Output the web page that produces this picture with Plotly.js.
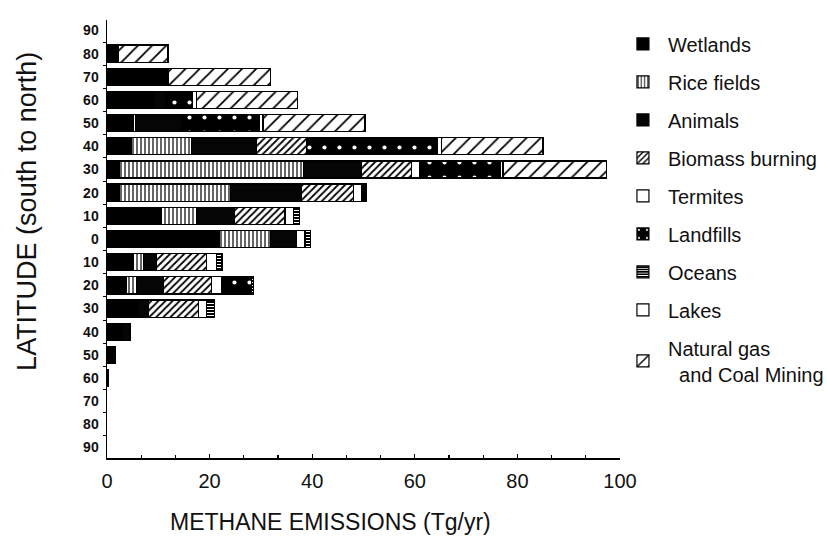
<!DOCTYPE html>
<html>
<head>
<meta charset="utf-8">
<script src="https://cdn.plot.ly/plotly-3.0.1.min.js"></script>
<style>html,body{margin:0;padding:0;background:#fff;}#chart{width:827px;height:538px;}</style>
</head>
<body>
<div id="chart"></div>
<script>
// Latitude bands (positive = north, negative = south)
const latitudes = [80, 70, 60, 50, 40, 30, 20, 10, 0, -10, -20, -30, -40, -50, -60];
const latTickVals = [90, 80, 70, 60, 50, 40, 30, 20, 10, 0, -10, -20, -30, -40, -50, -60, -70, -80, -90];
const latTickText = ["90","80","70","60","50","40","30","20","10","0","10","20","30","40","50","60","70","80","90"];
const bandTicks = [85, 75, 65, 55, 45, 35, 25, 15, 5, -5, -15, -25, -35, -45, -55, -65, -75, -85];
const xTickVals = [0, 20, 40, 60, 80, 100];

// Emissions (Tg/yr) per source, per latitude band
const wetlands   = [2.2, 11.9, 9.0, 5.2, 4.8, 2.5, 2.5, 10.7, 22.0, 5.1, 3.8, 6.0, 3.0, 1.0, 0.3];
const riceFields = [null, null, null, 0.4, 11.7, 35.8, 21.5, 6.8, 9.8, 2.0, 2.0, null, null, null, null];
const animals    = [null, null, 2.5, 9.0, 12.7, 11.3, 13.9, 7.4, 5.2, 2.6, 5.2, 2.1, 1.5, 0.6, null];
const biomass    = [null, null, null, null, 9.7, 9.8, 10.1, 9.8, null, 9.7, 9.4, 9.7, null, null, null];
const termites   = [null, null, null, null, null, 1.6, 1.6, 1.6, 1.6, 2.0, 2.0, 1.6, null, null, null];
const landfills  = [null, null, 5.1, 15.2, 25.6, 15.6, 1.0, null, null, null, 5.8, null, null, null, null];
const oceans     = [null, null, null, null, null, null, null, 1.3, 1.0, 1.0, 0.3, 1.6, null, null, null];
const lakes      = [null, null, 0.9, 0.6, 0.7, 0.6, null, null, null, null, null, null, null, null, null];
const naturalGas = [9.7, 20.0, 19.6, 19.9, 19.8, 20.2, null, null, null, null, null, null, null, null, null];

const seriesNames = ["Wetlands", "Rice fields", "Animals", "Biomass burning", "Termites",
  "Landfills", "Oceans", "Lakes", "Natural gas<br>&nbsp;&nbsp;and Coal Mining"];
const seriesData = [wetlands, riceFields, animals, biomass, termites, landfills, oceans, lakes, naturalGas];

const styles = [
  {color: "#000000"},
  {color: "#ffffff", pattern: {shape: "|", fgcolor: "#000", bgcolor: "#fff", size: 4, solidity: 0.3}},
  {color: "#050505"},
  {color: "#ffffff", pattern: {shape: "/", fgcolor: "#000", bgcolor: "#fff", size: 5, solidity: 0.35}},
  {color: "#ffffff"},
  {color: "#000000", pattern: {shape: ".", fgcolor: "#fff", bgcolor: "#000", size: 15, solidity: 0.06}},
  {color: "#000000", pattern: {shape: "-", fgcolor: "#fff", bgcolor: "#000", size: 3, solidity: 0.35}},
  {color: "#ffffff"},
  {color: "#ffffff", pattern: {shape: "/", fgcolor: "#000", bgcolor: "#fff", size: 10, solidity: 0.18}}
];

const traces = seriesData.map((vals, i) => ({
  type: "bar",
  orientation: "h",
  name: seriesNames[i],
  x: vals,
  y: latitudes,
  width: 7.4,
  legendgroup: "g" + i,
  marker: Object.assign({line: {color: "#000", width: 1.2}}, styles[i]),
  hoverinfo: "x+name"
}));

const font = "Liberation Sans, Arial, Helvetica, sans-serif";

const layout = {
  width: 827, height: 538,
  margin: {l: 107, r: 207, t: 20, b: 80, autoexpand: false},
  paper_bgcolor: "#fff", plot_bgcolor: "#fff",
  barmode: "stack",
  bargap: 0,
  font: {family: font, color: "#111"},
  showlegend: true,
  legend: {
    x: 0.996, xanchor: "left", y: 0.99, yanchor: "top",
    font: {family: font, size: 20, color: "#111"},
    tracegroupgap: 9,
    traceorder: "grouped",
    itemwidth: 40,
    bgcolor: "rgba(0,0,0,0)"
  },
  xaxis: {
    range: [0, 100],
    tickmode: "array", tickvals: xTickVals,
    ticks: "inside", ticklen: 4, tickcolor: "#000", tickwidth: 1.2,
    minor: {dtick: 20/3, tick0: 0, ticks: "inside", ticklen: 3, tickcolor: "#000"},
    showline: true, linecolor: "#000", linewidth: 1.5,
    showgrid: false, zeroline: false,
    tickfont: {family: font, size: 20, color: "#111"},
    ticklabelstandoff: 4,
    fixedrange: true
  },
  yaxis: {
    range: [-94.5, 94.5],
    tickmode: "array", tickvals: latTickVals, ticktext: latTickText,
    ticks: "",
    minor: {tickmode: "array", tickvals: bandTicks, ticks: "outside", ticklen: 3, tickcolor: "#000"},
    showline: true, linecolor: "#000", linewidth: 1.5,
    showgrid: false, zeroline: false,
    tickfont: {family: font, size: 14, color: "#111", weight: "bold"},
    ticklabelstandoff: 4,
    fixedrange: true
  },
  annotations: [
    {text: "METHANE EMISSIONS (Tg/yr)", xref: "paper", yref: "paper",
     x: 0.435, y: -0.147, xanchor: "center", yanchor: "middle", showarrow: false,
     font: {family: font, size: 23, color: "#111"}},
    {text: "LATITUDE (south to north)", xref: "paper", yref: "paper",
     x: -0.155, y: 0.563, xanchor: "center", yanchor: "middle", showarrow: false,
     textangle: -90, font: {family: font, size: 27, color: "#111"}}
  ]
};

Plotly.newPlot("chart", traces, layout, {displayModeBar: false, staticPlot: true});
</script>
</body>
</html>
